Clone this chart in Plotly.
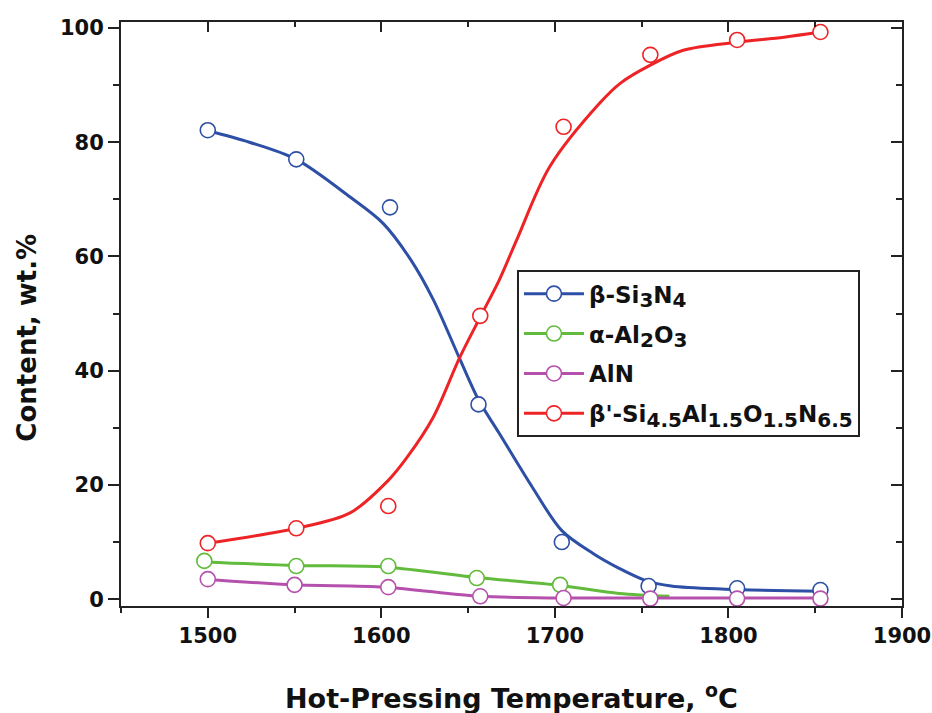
import plotly.graph_objects as go

# ---- measured points ----
blue_T = [1500, 1551, 1605, 1656, 1704, 1754, 1805, 1853]
blue_v = [82.1, 77.0, 68.6, 34.1, 10.0, 2.3, 1.9, 1.6]
green_T = [1498, 1551, 1604, 1655, 1703]
green_v = [6.7, 5.8, 5.8, 3.7, 2.5]
mag_T = [1500, 1550, 1604, 1657, 1705, 1755, 1805, 1853]
mag_v = [3.5, 2.5, 2.1, 0.5, 0.2, 0.1, 0.1, 0.1]
red_T = [1500, 1551, 1604, 1657, 1705, 1755, 1805, 1853]
red_v = [9.8, 12.4, 16.3, 49.6, 82.7, 95.3, 97.9, 99.3]

# ---- fitted curves ----
blue_cT = [1500, 1524, 1551, 1582, 1601, 1617, 1630, 1645, 1656, 1668, 1687, 1704, 1722, 1737, 1752, 1767, 1798, 1853]
blue_cv = [82.0, 80.0, 77.0, 70.4, 65.8, 59.4, 52.4, 42.2, 34.9, 29.0, 19.6, 12.0, 8.0, 5.4, 3.3, 2.3, 1.75, 1.4]
red_cT = [1500, 1551, 1582, 1604, 1615, 1630, 1645, 1657, 1668, 1678, 1697, 1726, 1738, 1755, 1774, 1805, 1832, 1853]
red_cv = [9.8, 12.4, 15.1, 20.8, 24.9, 31.9, 42.2, 49.4, 55.9, 62.9, 75.7, 86.9, 90.4, 93.5, 96.1, 97.5, 98.4, 99.3]
green_cT = [1498, 1551, 1603, 1655, 1703, 1737, 1766]
green_cv = [6.5, 5.9, 5.6, 3.8, 2.4, 1.0, 0.5]
mag_cT = [1498, 1550, 1602, 1657, 1704, 1755, 1805, 1853]
mag_cv = [3.5, 2.5, 2.1, 0.5, 0.2, 0.2, 0.2, 0.2]


def sub(s):
    return "<sub><span style='font-size:20px'>" + s + "</span></sub>"


names = ["β-Si" + sub("3") + "N" + sub("4"),
         "α-Al" + sub("2") + "O" + sub("3"),
         "AlN",
         "β'-Si" + sub("4.5") + "Al" + sub("1.5") + "O" + sub("1.5") + "N" + sub("6.5")]

x_ticks = [1500, 1600, 1700, 1800, 1900]
y_ticks = [0, 20, 40, 60, 80, 100]

BLUE = "#2d4fa6"
GREEN = "#62bb3c"
MAG = "#b551ad"
RED = "#ee2326"
FONT = "DejaVu Sans, Liberation Sans, Arial, sans-serif"

fig = go.Figure()

series = [
    (blue_cT, blue_cv, blue_T, blue_v, BLUE, names[0]),
    (green_cT, green_cv, green_T, green_v, GREEN, names[1]),
    (mag_cT, mag_cv, mag_T, mag_v, MAG, names[2]),
    (red_cT, red_cv, red_T, red_v, RED, names[3]),
]

for cT, cv, T, v, col, nm in series:
    fig.add_trace(go.Scatter(x=cT, y=cv, mode="lines",
                             line=dict(color=col, width=3, shape="spline", smoothing=0.9),
                             showlegend=False, hoverinfo="skip"))
for cT, cv, T, v, col, nm in series:
    fig.add_trace(go.Scatter(x=T, y=v, mode="markers",
                             marker=dict(symbol="circle", size=15, color="white",
                                         line=dict(color=col, width=1.6)),
                             showlegend=False))
for i, (cT, cv, T, v, col, nm) in enumerate(series):
    fig.add_trace(go.Scatter(x=[None], y=[None], mode="lines+markers", name=nm,
                             legendgroup="g%d" % i,
                             line=dict(color=col, width=3),
                             marker=dict(symbol="circle", size=15, color="white",
                                         line=dict(color=col, width=1.6))))

# helper trace for mirrored axes
fig.add_trace(go.Scatter(x=[None], y=[None], xaxis="x2", yaxis="y2", showlegend=False))

tickfont = dict(family=FONT, size=21, color="#111", weight="bold")
axcommon = dict(showline=True, linecolor="#222", linewidth=2, showgrid=False, zeroline=False,
                tickwidth=2, tickcolor="#222", automargin=False)

fig.update_layout(
    width=932, height=713,
    margin=dict(l=121, r=30, t=22, b=107, autoexpand=False),
    paper_bgcolor="white", plot_bgcolor="white",
    xaxis=dict(range=[1450, 1900], tickvals=x_ticks, ticks="outside", ticklen=10,
               minor=dict(dtick=50, tick0=1450, ticks="outside", ticklen=5, tickwidth=2, tickcolor="#222"),
               tickfont=tickfont, **axcommon),
    yaxis=dict(range=[-1.2, 101.05], tickvals=y_ticks, ticks="outside", ticklen=11,
               minor=dict(dtick=10, tick0=0, ticks="outside", ticklen=6, tickwidth=2, tickcolor="#222"),
               tickfont=tickfont, **axcommon),
    xaxis2=dict(range=[1450, 1900], overlaying="x", side="top", tickvals=x_ticks, ticks="inside",
                ticklen=10, showticklabels=False,
                minor=dict(dtick=50, tick0=1450, ticks="inside", ticklen=5, tickwidth=2, tickcolor="#222"),
                **axcommon),
    yaxis2=dict(range=[-1.2, 101.05], overlaying="y", side="right", tickvals=y_ticks, ticks="inside",
                ticklen=11, showticklabels=False,
                minor=dict(dtick=10, tick0=0, ticks="inside", ticklen=6, tickwidth=2, tickcolor="#222"),
                **axcommon),
    legend=dict(x=0.507, y=0.575, xanchor="left", yanchor="top",
                bgcolor="white", bordercolor="#222", borderwidth=2,
                font=dict(family=FONT, size=23, color="#111", weight="bold"),
                traceorder="grouped", tracegroupgap=7,
                itemwidth=60),
    annotations=[
        dict(text="Hot-Pressing Temperature, <sup>o</sup>C", xref="paper", yref="paper",
             x=0.5, y=-0.155, xanchor="center", yanchor="middle", showarrow=False,
             font=dict(family=FONT, size=27, color="#111", weight="bold")),
        dict(text="Content, wt.%", xref="paper", yref="paper", textangle=-90,
             x=-0.12, y=0.46, xanchor="center", yanchor="middle", showarrow=False,
             font=dict(family=FONT, size=26, color="#111", weight="bold")),
    ],
)

fig.write_html("out.html")
